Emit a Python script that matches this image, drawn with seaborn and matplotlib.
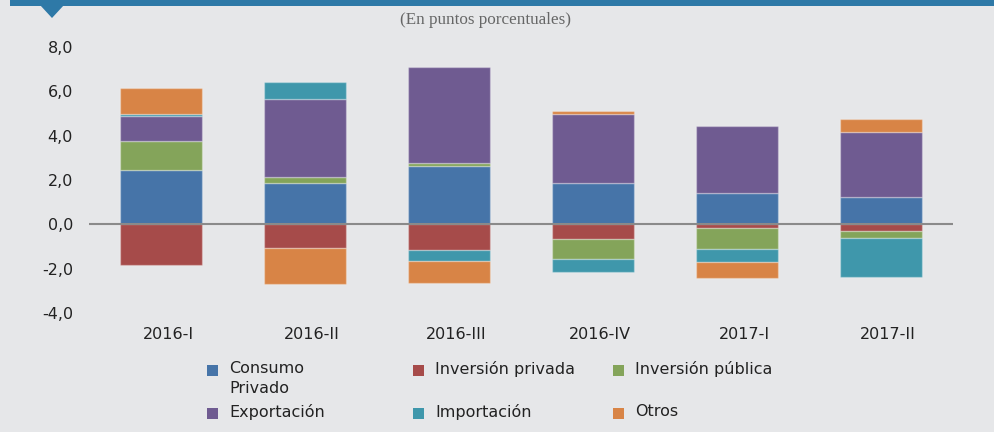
import matplotlib
matplotlib.use("Agg")
import matplotlib.pyplot as plt
import matplotlib.transforms as mtransforms
from matplotlib.patches import Rectangle, Polygon
from matplotlib.ticker import FuncFormatter
import seaborn as sns
import numpy as np

# ---- data ----
categories = ["2016-I", "2016-II", "2016-III", "2016-IV", "2017-I", "2017-II"]
series_names = ["Consumo\nPrivado", "Inversión privada", "Inversión pública",
                "Exportación", "Importación", "Otros"]
consumo_privado = [2.46, 1.88, 2.63, 1.86, 1.43, 1.25]
inversion_privada = [-1.85, -1.09, -1.18, -0.68, -0.18, -0.32]
inversion_publica = [1.28, 0.24, 0.12, -0.87, -0.92, -0.28]
exportacion = [1.16, 3.52, 4.35, 3.11, 3.02, 2.91]
importacion = [0.07, 0.77, -0.49, -0.58, -0.61, -1.76]
otros = [1.17, -1.61, -0.96, 0.13, -0.69, 0.61]
y_ticks = [-4, -2, 0, 2, 4, 6, 8]
subtitle = "(En puntos porcentuales)"

series_values = [consumo_privado, inversion_privada, inversion_publica,
                 exportacion, importacion, otros]
colors = ["#4674A8", "#A64B4A", "#84A45A", "#6F5B91", "#3F97AB", "#D88446"]

sns.set_theme(style="white")
plt.rcParams['font.family'] = ['DejaVu Sans']

W, H = 994, 432
bg = "#E6E7E9"
fig = plt.figure(figsize=(W / 100, H / 100), dpi=100, facecolor=bg)
ax = fig.add_axes([89 / W, 1 - 313 / H, (953 - 89) / W, (313 - 47) / H])
ax.set_facecolor(bg)

pos_base = np.zeros(len(categories))
neg_base = np.zeros(len(categories))
for name, vals, col in zip(series_names, series_values, colors):
    v = np.array(vals, dtype=float)
    bottoms = np.where(v >= 0, pos_base, neg_base)
    sns.barplot(x=categories, y=v, order=categories, bottom=bottoms,
                color=col, saturation=1, width=0.575, errorbar=None,
                edgecolor=(1, 1, 1, 0.3), linewidth=1, ax=ax, zorder=2)
    pos_base += np.clip(v, 0, None)
    neg_base += np.clip(v, None, 0)

ax.axhline(0, color="#8a8a8a", lw=1.5, zorder=5)
ax.set_xlim(-0.5, len(categories) - 0.5)
ax.set_ylim(-4, 8)
ax.set_yticks(y_ticks)
ax.yaxis.set_major_formatter(FuncFormatter(lambda v, p: f"{v:.1f}".replace(".", ",")))
ax.set_xlabel("")
ax.set_ylabel("")
for s in ax.spines.values():
    s.set_visible(False)
ax.tick_params(axis="y", length=0, pad=11.5, labelsize=11.5, labelcolor="#222222")
ax.tick_params(axis="x", length=0, pad=10, labelsize=11.5, labelcolor="#222222")
offset = mtransforms.ScaledTranslation(7 / 100, 0, fig.dpi_scale_trans)
for lbl in ax.get_xticklabels():
    lbl.set_transform(lbl.get_transform() + offset)
ax.grid(False)

# ---- header band ----
blue = "#2E79A7"
fig.add_artist(Rectangle((10 / W, 1 - 6 / H), 1, 6 / H, transform=fig.transFigure,
                         color=blue, lw=0))
fig.add_artist(Polygon([(40 / W, 1 - 5 / H), (64 / W, 1 - 5 / H), (52 / W, 1 - 18 / H)],
                       closed=True, transform=fig.transFigure, color=blue, lw=0))
fig.text(485 / W, 1 - 20 / H, subtitle, ha="center", va="center",
         family="Liberation Serif", fontsize=12.3, color="#666666")

# ---- legend ----
col_x = [212, 418, 618]
row_y = [370, 413]
order = [(0, 0, 0), (1, 0, 1), (2, 0, 2), (3, 1, 0), (4, 1, 1), (5, 1, 2)]
sq = 11
for idx, r, c in order:
    cx, cy = col_x[c], row_y[r]
    fig.add_artist(Rectangle(((cx - sq / 2) / W, 1 - (cy + sq / 2) / H), sq / W, sq / H,
                             transform=fig.transFigure, color=colors[idx], lw=0))
    fig.text((cx + 17) / W, 1 - (cy - 9) / H, series_names[idx], ha="left", va="top",
             fontsize=11.5, color="#222222", linespacing=1.4)

fig.savefig("out.png", dpi=100, facecolor=bg)
